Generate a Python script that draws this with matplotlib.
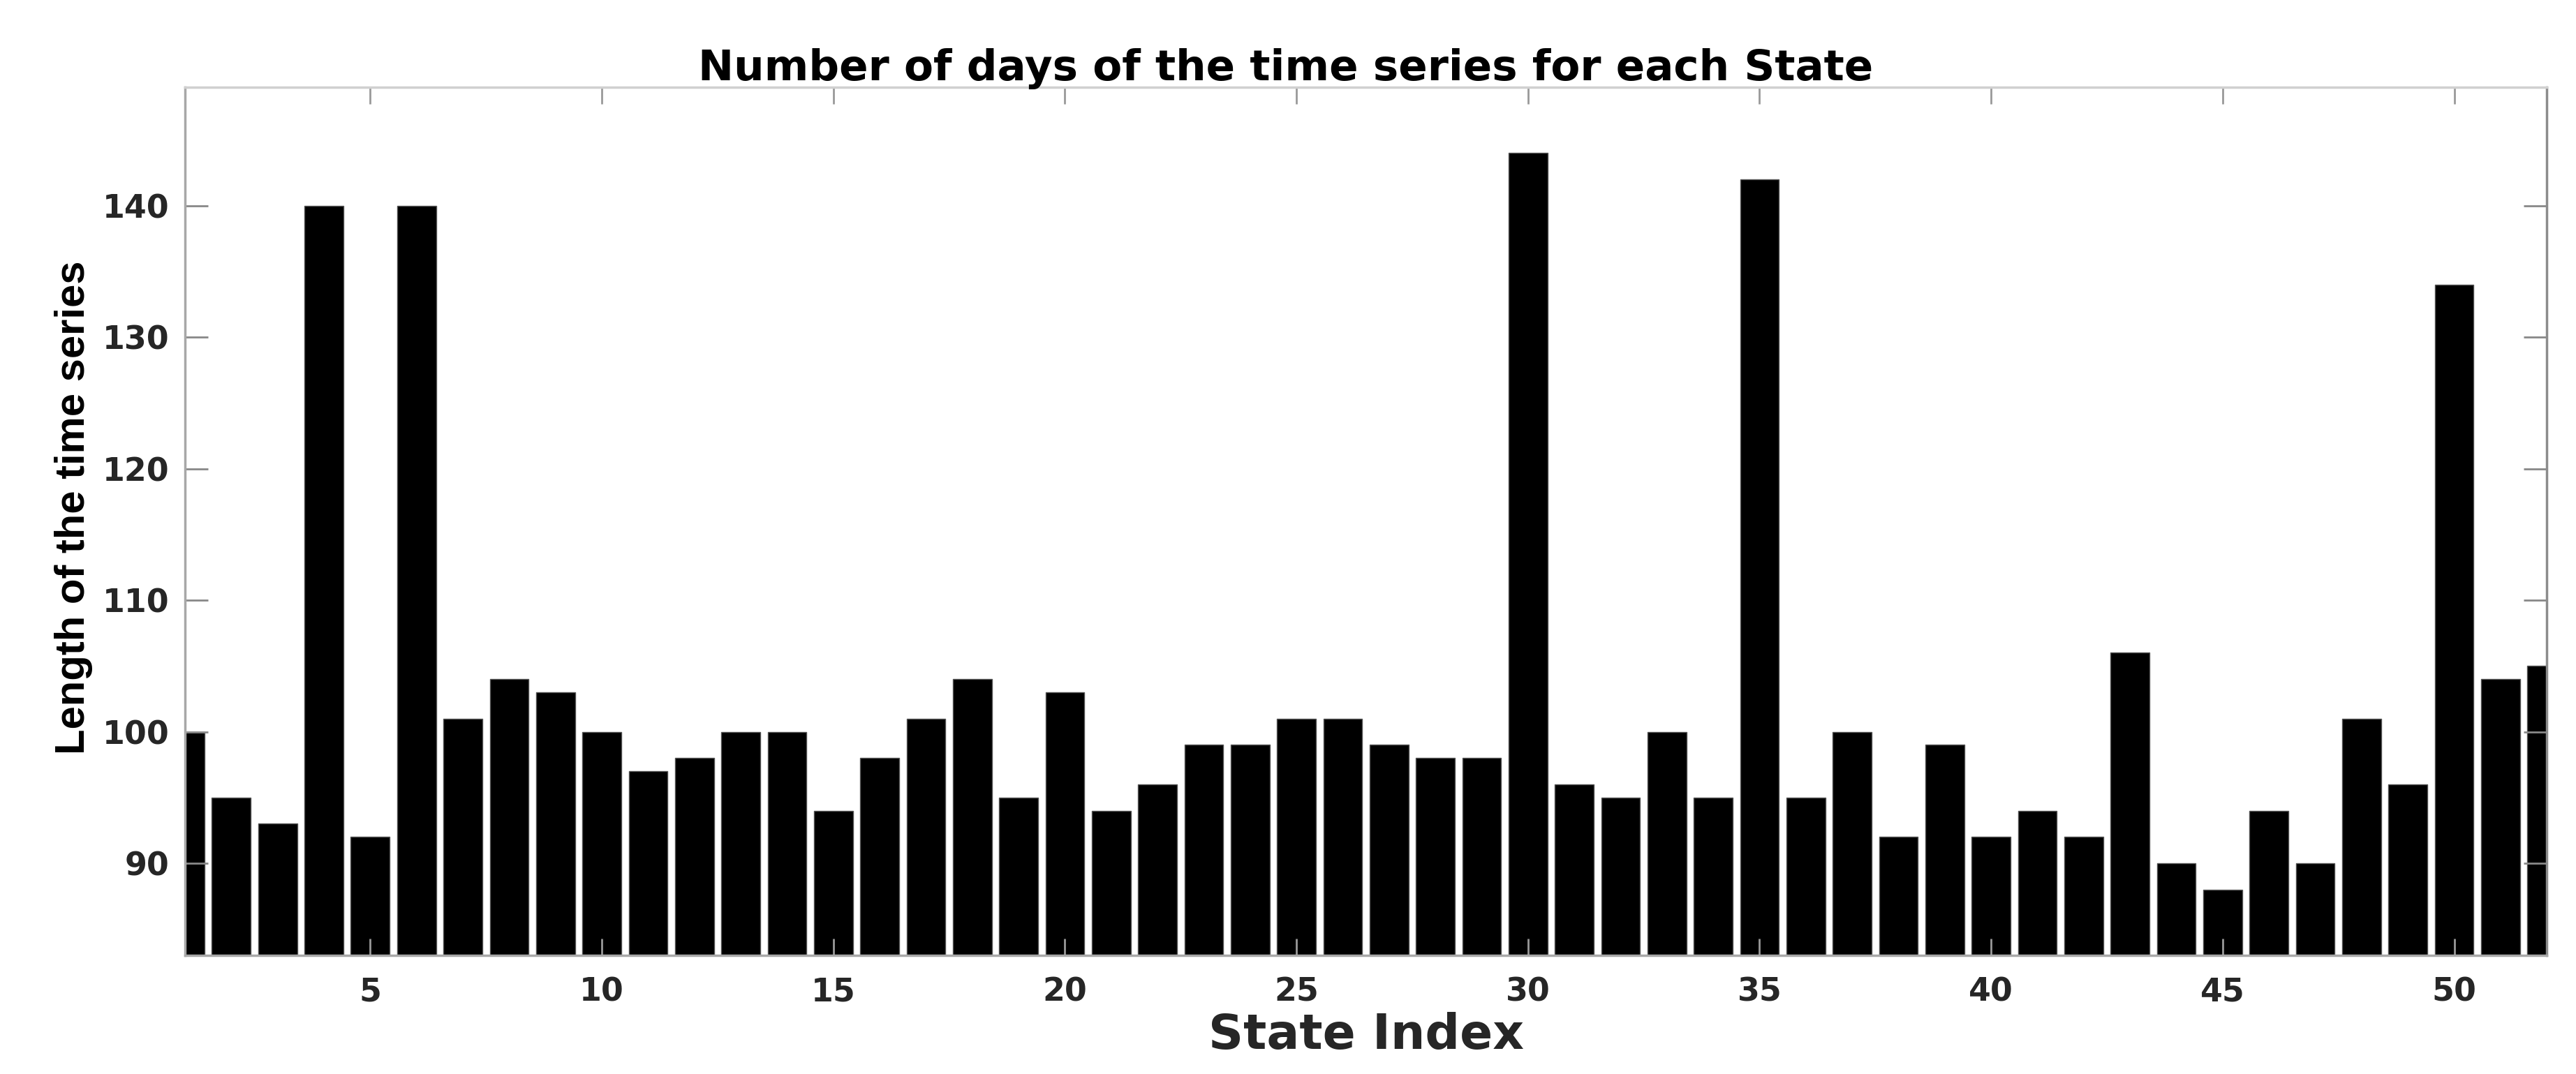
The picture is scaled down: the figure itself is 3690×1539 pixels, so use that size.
import matplotlib
matplotlib.use('Agg')
import matplotlib.pyplot as plt

# Length of the time series per state
state_index = list(range(1, 53))
days = [100, 95, 93, 140, 92, 140, 101, 104, 103, 100,
        97, 98, 100, 100, 94, 98, 101, 104, 95, 103,
        94, 96, 99, 99, 101, 101, 99, 98, 98, 144,
        96, 95, 100, 95, 142, 95, 100, 92, 99, 92,
        94, 92, 106, 90, 88, 94, 90, 101, 96, 134,
        104, 105]
x_ticks = [5, 10, 15, 20, 25, 30, 35, 40, 45, 50]
y_ticks = [90, 100, 110, 120, 130, 140]

plt.rcParams['font.family'] = ['DejaVu Sans']

fig = plt.figure(figsize=(36.91, 15.39), dpi=100)
ax = fig.add_axes([0.0718, 0.1105, 0.9166, 0.8083])

ax.bar(state_index, days, width=0.84, color='black', edgecolor='#555555', linewidth=1.0)

ax.set_xlim(1, 52)
ax.set_ylim(83, 149)
ax.set_xticks(x_ticks)
ax.set_yticks(y_ticks)

ax.tick_params(axis='both', direction='in', top=True, right=True,
               colors='#262626', labelsize=33, width=2)
ax.tick_params(axis='y', length=24, pad=16, color='#888888')
ax.tick_params(axis='x', length=17, pad=22, color='#999999')
for lab in ax.get_xticklabels() + ax.get_yticklabels():
    lab.set_fontweight('bold')

ax.spines['left'].set_color('#a8a8a8')
ax.spines['bottom'].set_color('#a8a8a8')
ax.spines['top'].set_color('#d0d0d0')
ax.spines['right'].set_color('#8c8c8c')
for s in ax.spines.values():
    s.set_linewidth(2.5)

ax.set_title('Number of days of the time series for each State', fontsize=44,
             fontweight='bold', x=0.466, pad=7, color='black')
ax.set_xlabel('State Index', fontsize=50, fontweight='bold', color='#262626', labelpad=4)
ax.set_ylabel('Length of the time series', fontsize=43, fontweight='bold',
              color='black', family=['Liberation Sans', 'DejaVu Sans'])
ax.yaxis.set_label_coords(-0.039, 0.516)

fig.savefig('out.png', dpi=100)
